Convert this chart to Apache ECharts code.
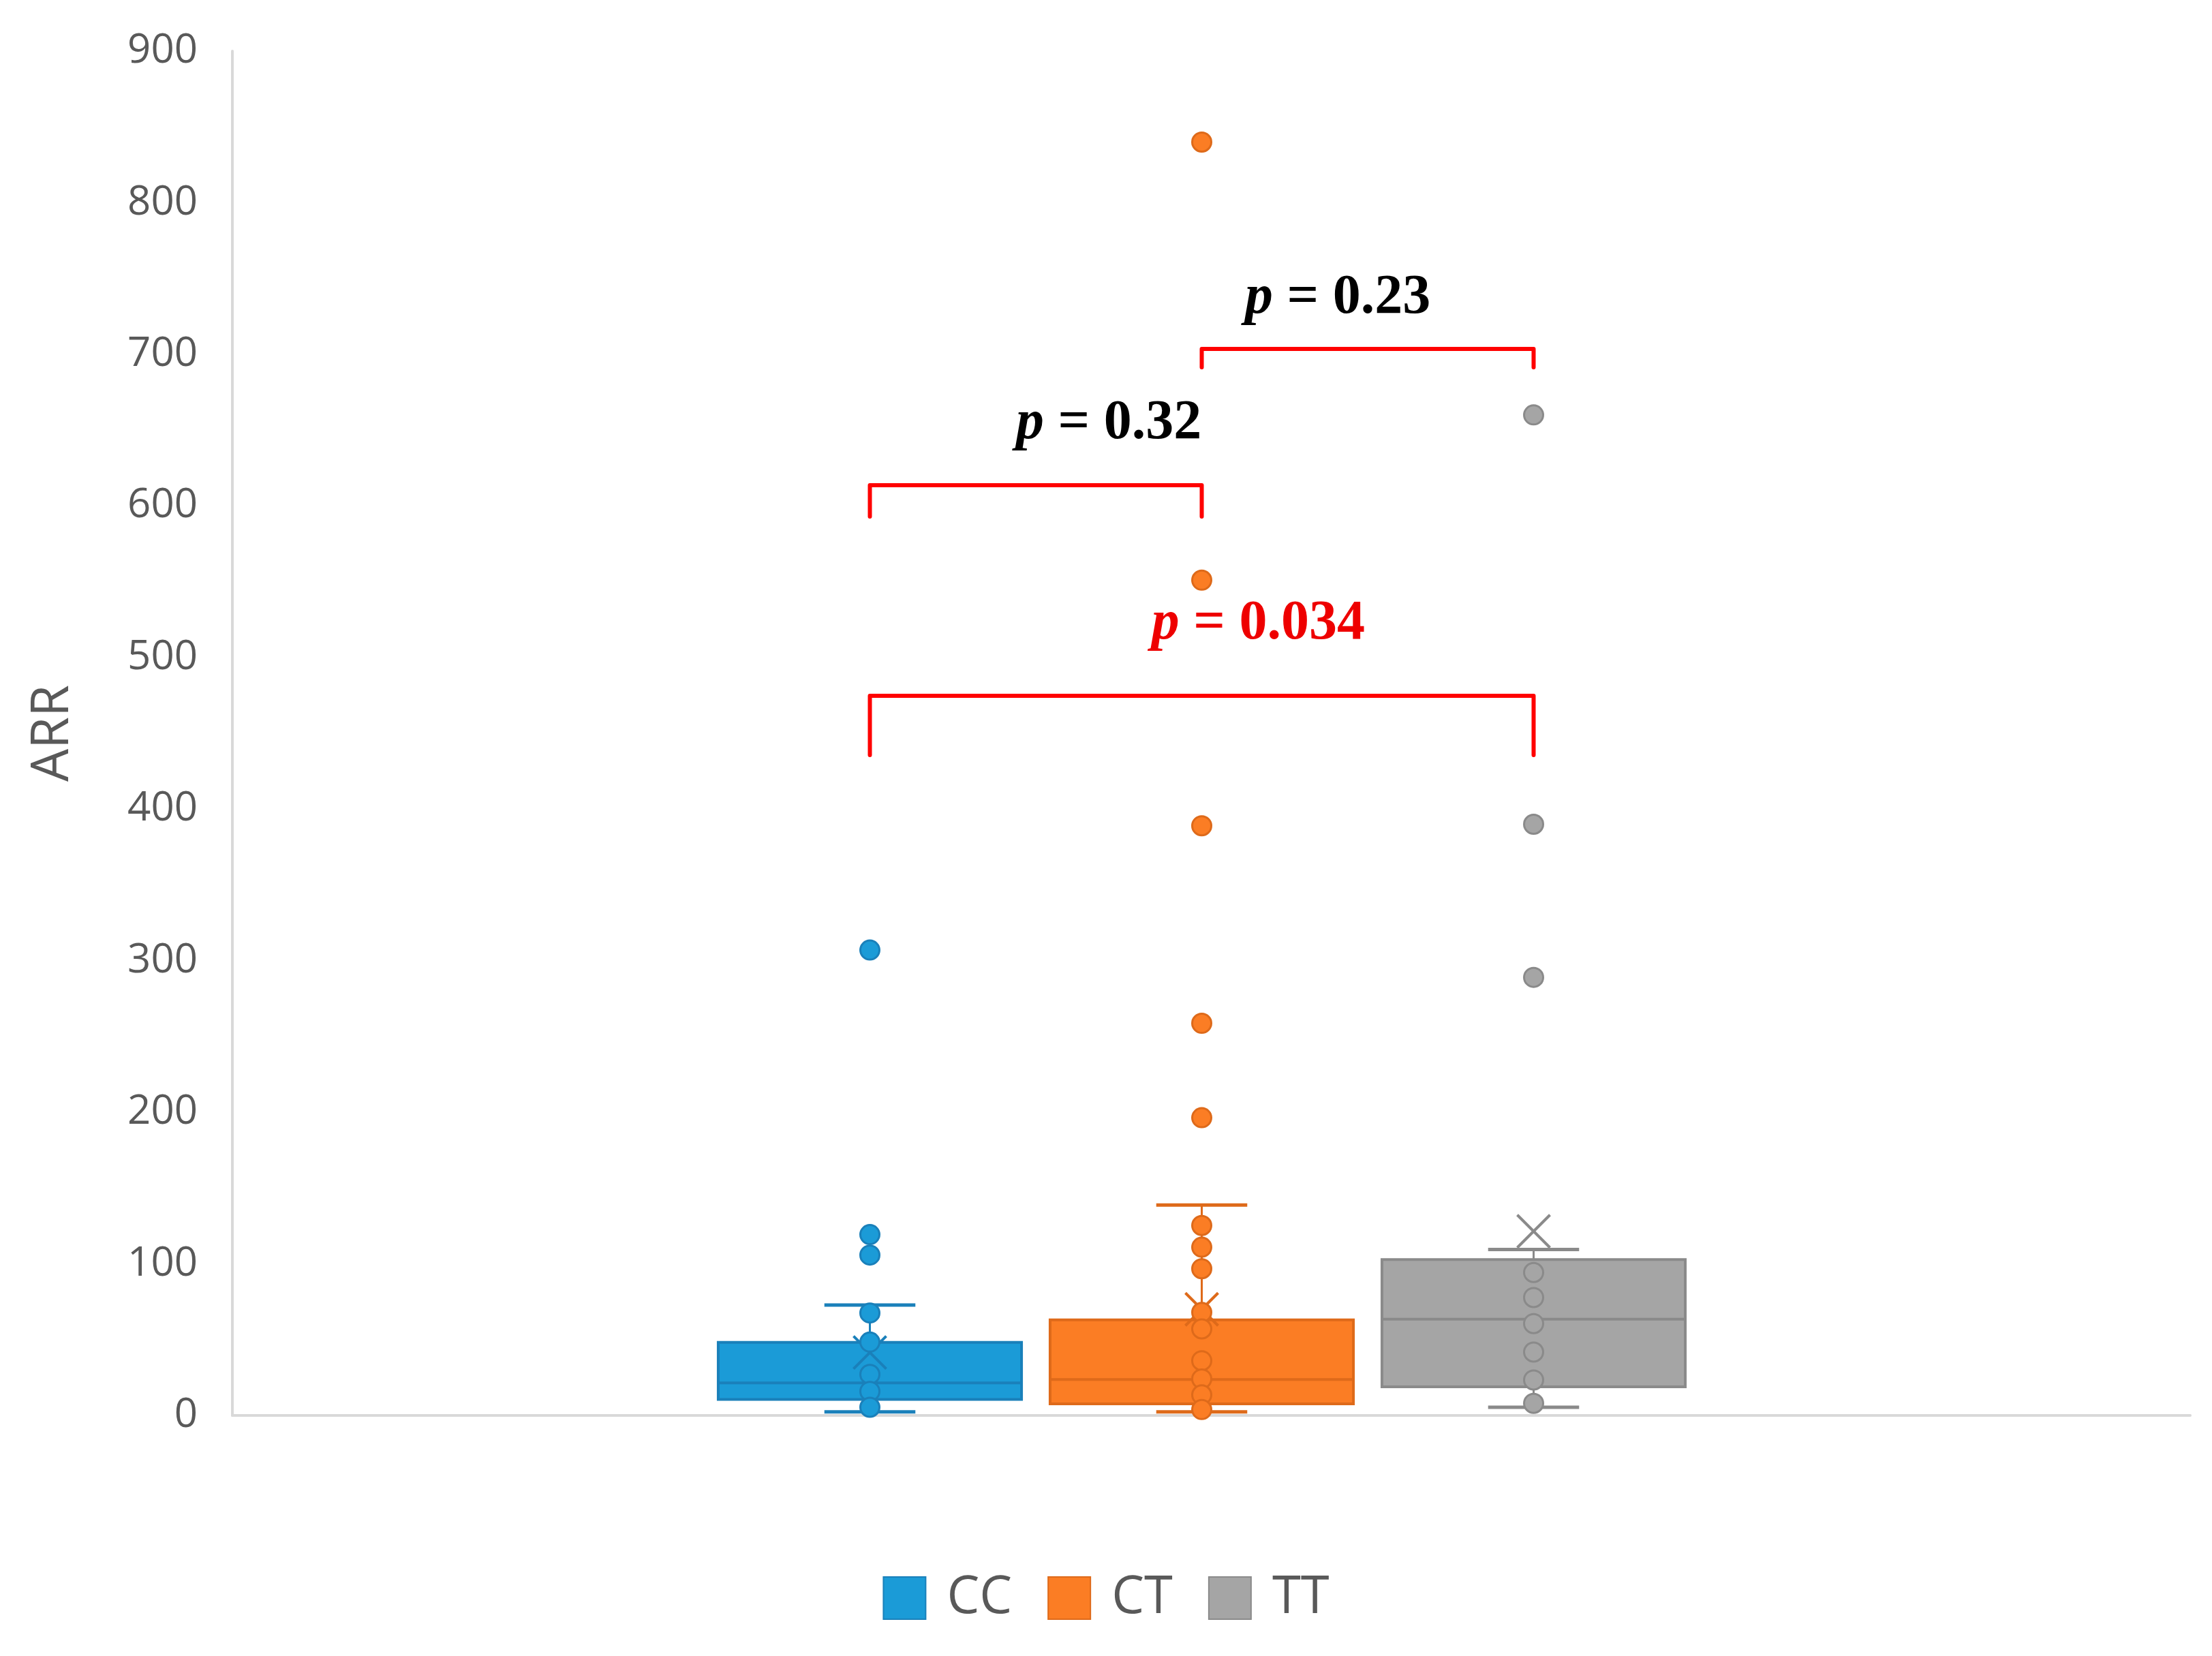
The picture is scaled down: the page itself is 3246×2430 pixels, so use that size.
<!DOCTYPE html>
<html>
<head>
<meta charset="utf-8">
<title>ARR by genotype</title>
<script src="https://cdn.jsdelivr.net/npm/echarts@6/dist/echarts.min.js"></script>
<style>
  html, body { margin: 0; padding: 0; background: #ffffff; }
  #chart { width: 3246px; height: 2430px; }
</style>
</head>
<body>
<div id="chart"></div>
<script>
// ---------------- data ----------------
var categories = ['CC', 'CT', 'TT'];
var yTicks = [0, 100, 200, 300, 400, 500, 600, 700, 800, 900];

// box statistics
var boxMin    = [2.4, 2.4, 5.4];
var boxQ1     = [10.6, 7.6, 18.9];
var boxMedian = [21.5, 23.7, 63.5];
var boxQ3     = [48.2, 63.1, 102.8];
var boxMax    = [72.8, 138.8, 109.5];
var boxMean   = [41.5, 70.0, 121.5];

// individual points (inner points + outliers)
var ccPoints = [307, 119.3, 105.8, 67.6, 48.4, 27.1, 15.9, 5.4];
var ctPoints = [840, 551, 389, 258.7, 196.4, 125.3, 111, 96.8, 68, 57.1, 36.1, 24.1, 13.6, 3.9];
var ttPoints = [660, 390, 289, 94.3, 77.8, 60.6, 41.8, 23.4, 8.0];

// significance annotations
var pPairs      = [[0, 1], [1, 2], [0, 2]];
var pBracketTop = [613.6, 703.6, 474.7];
var pBracketFoot= [593.0, 691.4, 435.6];
var pValues     = ['0.32', '0.23', '0.034'];
var pLabelY     = [654, 737, 522];
var pLabelFrac  = [0.72, 0.41, 0.585];
var pLabelColor = ['#000000', '#000000', '#EE0000'];

// ---------------- styles ----------------
var fills = ['#1B9BD7', '#FB7D24', '#A5A5A5'];
var darks = ['#1A80BA', '#DE6A1A', '#8A8A8A'];
var textGray = '#595959';
var axisGray = '#D9D9D9';

var chart = echarts.init(document.getElementById('chart'), null, { renderer: 'canvas' });

var boxData = categories.map(function (c, i) {
  return [i, boxMin[i], boxQ1[i], boxMedian[i], boxQ3[i], boxMax[i], boxMean[i]];
});

function pointSeries(name, idx, values) {
  return {
    name: name,
    type: 'scatter',
    xAxisIndex: 1,
    yAxisIndex: 1,
    z: 5,
    symbol: 'circle',
    symbolSize: 28,
    itemStyle: { color: fills[idx], borderColor: darks[idx], borderWidth: 3, opacity: 1 },
    data: values.map(function (v) { return [categories[idx], v]; }),
    silent: true
  };
}

var bracketSeries = pPairs.map(function (pr, k) {
  return {
    name: 'bracket' + k,
    type: 'line',
    xAxisIndex: 1,
    yAxisIndex: 1,
    z: 6,
    symbol: 'none',
    silent: true,
    lineStyle: { color: '#FF0000', width: 6, cap: 'round', join: 'round' },
    data: [
      [pr[0], pBracketFoot[k]],
      [pr[0], pBracketTop[k]],
      [pr[1], pBracketTop[k]],
      [pr[1], pBracketFoot[k]]
    ]
  };
});

var option = {
  backgroundColor: '#ffffff',
  animation: false,
  textStyle: { fontFamily: 'Open Sans' },
  legend: {
    data: ['CC', 'CT', 'TT'],
    icon: 'rect',
    left: 'center',
    top: 2302,
    itemWidth: 62,
    itemHeight: 62,
    itemGap: 52,
    textStyle: { fontFamily: 'Open Sans', fontSize: 76, color: textGray, padding: [0, 0, 0, 26] }
  },
  grid: [
    { left: 341, right: 32, top: 75, bottom: 353 },
    { left: 1033, right: 752, top: 75, bottom: 353 }
  ],
  xAxis: [
    {
      type: 'category',
      gridIndex: 0,
      data: [''],
      axisLine: { show: true, lineStyle: { color: axisGray, width: 4 } },
      axisTick: { show: false },
      axisLabel: { show: false },
      splitLine: { show: false }
    },
    {
      type: 'category',
      gridIndex: 1,
      data: categories,
      show: false
    }
  ],
  yAxis: [
    {
      type: 'value',
      gridIndex: 0,
      min: yTicks[0],
      max: yTicks[yTicks.length - 1],
      interval: yTicks[1] - yTicks[0],
      name: 'ARR',
      nameLocation: 'middle',
      nameGap: 225,
      nameTextStyle: { fontFamily: 'Open Sans', fontSize: 76, color: textGray },
      axisLine: { show: true, lineStyle: { color: axisGray, width: 4 } },
      axisTick: { show: false },
      splitLine: { show: false },
      axisLabel: { fontFamily: 'Open Sans', fontSize: 60, color: textGray, margin: 51 }
    },
    {
      type: 'value',
      gridIndex: 1,
      min: yTicks[0],
      max: yTicks[yTicks.length - 1],
      show: false,
      splitLine: { show: false }
    }
  ],
  series: [
    {
      name: 'boxes',
      type: 'custom',
      xAxisIndex: 1,
      yAxisIndex: 1,
      z: 2,
      silent: true,
      encode: { x: 0, y: [1, 2, 3, 4, 5, 6] },
      data: boxData,
      renderItem: function (params, api) {
        var i = api.value(0);
        var x = api.coord([i, api.value(3)])[0];
        var yMin = api.coord([i, api.value(1)])[1];
        var yQ1 = api.coord([i, api.value(2)])[1];
        var yMed = api.coord([i, api.value(3)])[1];
        var yQ3 = api.coord([i, api.value(4)])[1];
        var yMax = api.coord([i, api.value(5)])[1];
        var yMean = api.coord([i, api.value(6)])[1];
        var band = api.size([1, 0])[0];
        var bw = band * 0.914;
        var cw = bw * 0.3;
        var fill = fills[i], dark = darks[i];
        var m = 24;
        return {
          type: 'group',
          children: [
            { type: 'line', shape: { x1: x, y1: yMax, x2: x, y2: yQ3 }, style: { stroke: dark, lineWidth: 3 } },
            { type: 'line', shape: { x1: x, y1: yQ1, x2: x, y2: yMin }, style: { stroke: dark, lineWidth: 3 } },
            { type: 'line', shape: { x1: x - cw / 2, y1: yMax, x2: x + cw / 2, y2: yMax }, style: { stroke: dark, lineWidth: 5 } },
            { type: 'line', shape: { x1: x - cw / 2, y1: yMin, x2: x + cw / 2, y2: yMin }, style: { stroke: dark, lineWidth: 5 } },
            { type: 'rect', shape: { x: x - bw / 2, y: yQ3, width: bw, height: yQ1 - yQ3 }, style: { fill: fill, stroke: dark, lineWidth: 4 } },
            { type: 'line', shape: { x1: x - bw / 2, y1: yMed, x2: x + bw / 2, y2: yMed }, style: { stroke: dark, lineWidth: 4 } },
            { type: 'line', z2: 10, shape: { x1: x - m, y1: yMean - m, x2: x + m, y2: yMean + m }, style: { stroke: dark, lineWidth: 4 } },
            { type: 'line', z2: 10, shape: { x1: x - m, y1: yMean + m, x2: x + m, y2: yMean - m }, style: { stroke: dark, lineWidth: 4 } }
          ]
        };
      }
    },
    pointSeries('CC', 0, ccPoints),
    pointSeries('CT', 1, ctPoints),
    pointSeries('TT', 2, ttPoints)
  ].concat(bracketSeries)
};

chart.setOption(option);

// p-value labels positioned through the chart's own coordinate system
var graphics = pPairs.map(function (pr, k) {
  var a = chart.convertToPixel({ xAxisIndex: 1, yAxisIndex: 1 }, [pr[0], pLabelY[k]]);
  var b = chart.convertToPixel({ xAxisIndex: 1, yAxisIndex: 1 }, [pr[1], pLabelY[k]]);
  var x = a[0] + (b[0] - a[0]) * pLabelFrac[k];
  return {
    type: 'text',
    x: x,
    y: a[1],
    z: 100,
    style: {
      text: '{i|p} = ' + pValues[k],
      fill: pLabelColor[k],
      fontFamily: 'Liberation Serif',
      fontWeight: 'bold',
      fontSize: 82,
      align: 'center',
      verticalAlign: 'middle',
      rich: {
        i: { fontFamily: 'Liberation Serif', fontStyle: 'italic', fontWeight: 'bold', fontSize: 82, fill: pLabelColor[k] }
      }
    }
  };
});
chart.setOption({ graphic: graphics });
</script>
</body>
</html>
